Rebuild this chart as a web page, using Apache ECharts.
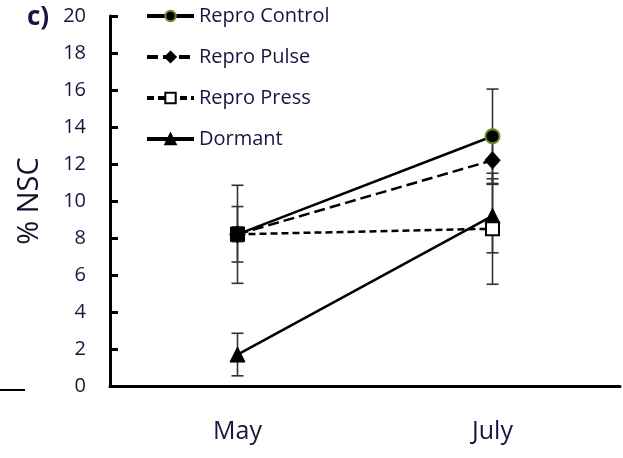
<!DOCTYPE html>
<html>
<head>
<meta charset="utf-8">
<script src="https://cdn.jsdelivr.net/npm/echarts@6/dist/echarts.min.js"></script>
<style>html,body{margin:0;padding:0;background:#fff}#c{width:623px;height:458px}</style>
</head>
<body>
<div id="c"></div>
<script>
const categories = ['May', 'July'];
const seriesNames = ['Repro Control', 'Repro Pulse', 'Repro Press', 'Dormant'];
const controlVals = [8.2, 13.5];
const pulseVals = [8.2, 12.2];
const pressVals = [8.2, 8.5];
const dormantVals = [1.7, 9.2];
const controlErr = [2.65, 2.55];
const pulseErr = [1.5, 1.3];
const pressErr = [0.4, 3.0];
const dormantErr = [1.15, 2.0];
const yTicks = [0, 2, 4, 6, 8, 10, 12, 14, 16, 18, 20];

const txt = '#161640';
const font = 'Open Sans';

function errData(vals, errs) {
  return vals.map((v, i) => [i, v - errs[i], v + errs[i]]);
}
const allErr = [].concat(
  errData(controlVals, controlErr),
  errData(pulseVals, pulseErr),
  errData(pressVals, pressErr),
  errData(dormantVals, dormantErr)
);

const chart = echarts.init(document.getElementById('c'), null, {renderer: 'canvas'});
chart.setOption({
  animation: false,
  backgroundColor: '#fff',
  textStyle: {fontFamily: font},
  grid: {left: 110, right: 3, top: 16, bottom: 72, containLabel: false},
  legend: {
    orient: 'vertical',
    left: 140,
    top: 1,
    itemWidth: 47,
    itemHeight: 13,
    itemGap: 21,
    data: seriesNames,
    lineStyle: {width: 4},
    textStyle: {color: txt, fontSize: 20, fontFamily: font, lineHeight: 20}
  },
  xAxis: {
    type: 'category',
    data: categories,
    boundaryGap: true,
    axisLine: {lineStyle: {color: '#000', width: 3}},
    axisTick: {show: false},
    axisLabel: {color: txt, fontSize: 25, fontFamily: font, margin: 33}
  },
  yAxis: {
    type: 'value',
    min: yTicks[0],
    max: yTicks[yTicks.length - 1],
    interval: yTicks[1] - yTicks[0],
    name: '% NSC',
    nameLocation: 'middle',
    nameRotate: 90,
    nameGap: 66,
    nameTextStyle: {color: '#101028', fontSize: 29, fontFamily: font},
    axisLine: {show: true, lineStyle: {color: '#000', width: 3}},
    axisTick: {show: true, inside: true, length: 8, lineStyle: {color: '#000', width: 3}},
    axisLabel: {color: txt, fontSize: 20, fontFamily: font, margin: 24},
    splitLine: {show: false}
  },
  graphic: [
    {type: 'text', left: 27, top: 5, style: {text: 'c)', fontSize: 26, fontWeight: 'bold', fontFamily: font, fill: txt}},
    {type: 'line', shape: {x1: 0, y1: 390, x2: 25, y2: 390}, style: {stroke: '#000', lineWidth: 2}}
  ],
  series: [
    {
      type: 'custom',
      name: 'err',
      z: 1,
      silent: true,
      data: allErr,
      renderItem: function (params, api) {
        const lo = api.coord([api.value(0), api.value(1)]);
        const hi = api.coord([api.value(0), api.value(2)]);
        const w = 6;
        const st = {stroke: '#333', lineWidth: 1.6};
        return {
          type: 'group',
          children: [
            {type: 'line', shape: {x1: lo[0], y1: lo[1], x2: hi[0], y2: hi[1]}, style: st},
            {type: 'line', shape: {x1: lo[0] - w, y1: lo[1], x2: lo[0] + w, y2: lo[1]}, style: st},
            {type: 'line', shape: {x1: hi[0] - w, y1: hi[1], x2: hi[0] + w, y2: hi[1]}, style: st}
          ]
        };
      }
    },
    {
      name: seriesNames[0], type: 'line', z: 3,
      data: controlVals,
      symbol: 'circle', symbolSize: 14,
      lineStyle: {color: '#000', width: 2.5},
      itemStyle: {color: '#000', borderColor: '#6b8a22', borderWidth: 2}
    },
    {
      name: seriesNames[1], type: 'line', z: 4,
      data: pulseVals,
      symbol: 'diamond', symbolSize: [15, 17],
      lineStyle: {color: '#000', width: 2.5, type: [11, 5]},
      itemStyle: {color: '#000', borderColor: '#000', borderWidth: 1}
    },
    {
      name: seriesNames[3], type: 'line', z: 5,
      data: dormantVals,
      symbol: 'triangle', symbolSize: [15, 15],
      lineStyle: {color: '#000', width: 2.5},
      itemStyle: {color: '#000', borderColor: '#000', borderWidth: 1}
    },
    {
      name: seriesNames[2], type: 'line', z: 6,
      data: pressVals.map((v, i) => i === 0 ? {value: v, itemStyle: {color: '#000'}} : v),
      symbol: 'rect', symbolSize: 13,
      lineStyle: {color: '#000', width: 2.5, type: [7, 4]},
      itemStyle: {color: '#fff', borderColor: '#000', borderWidth: 2}
    }
  ]
});
</script>
</body>
</html>
